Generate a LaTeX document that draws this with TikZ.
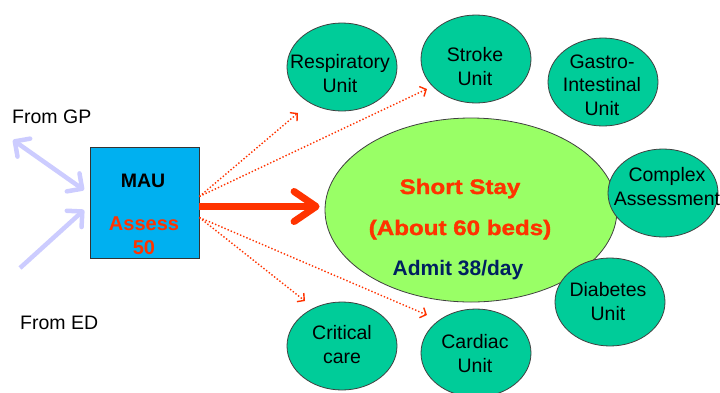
\documentclass[tikz,border=0pt]{standalone}
\usepackage{fontspec}
\setmainfont{Liberation Sans}
\newfontfamily\ssfont{Liberation Sans Bold}[FakeStretch=1.15,FakeBold=1.5]
\usetikzlibrary{shapes.geometric,arrows.meta}
\definecolor{boxblue}{HTML}{00B0F0}
\definecolor{unitgreen}{HTML}{00CC99}
\definecolor{ssgreen}{HTML}{99FF66}
\definecolor{redarr}{HTML}{FF3300}
\definecolor{navytext}{HTML}{002060}
\definecolor{lav}{HTML}{CCCCFF}
\begin{document}
\begin{tikzpicture}[x=1pt,y=-1pt,
  unit/.style={ellipse,draw=black!75,line width=0.8pt,fill=unitgreen,minimum width=110pt,minimum height=88pt,inner sep=0pt},
  unittext/.style={font=\fontsize{19.5}{23.5}\selectfont,align=center,anchor=base,inner sep=0pt},
  dotarr/.style={redarr,line width=1.4pt,dotted,-{Straight Barb[length=5pt,width=11pt,line width=1.4pt]}},
  lavarr/.style={lav,line width=4.5pt,-{Straight Barb[length=11pt,width=22pt,round]}},
  bigarr/.style={redarr,line width=7pt,-{Straight Barb[length=22pt,width=30pt,round]}},
  plain/.style={font=\fontsize{19.5}{23.5}\selectfont,inner sep=0pt}
]
\useasboundingbox (0,0) rectangle (720,392);

% MAU box
\node[rectangle,draw=black!80,line width=0.8pt,fill=boxblue,minimum width=109pt,minimum height=111pt,inner sep=0pt] (mau) at (144.5,202.5) {};
\node[font=\bfseries\fontsize{19.5}{23}\selectfont,anchor=base,inner sep=0pt] (mautxt) at (143,187) {MAU};
\node[font=\fontsize{20}{24}\selectfont\bfseries,text=redarr,anchor=base,inner sep=0pt,align=center] (assess) at (144,254) {Assess\\[-0.5pt]50};

% From labels
\node[plain,anchor=base west] (gp) at (12,123) {From GP};
\node[plain,anchor=base west] (ed) at (20,329) {From ED};

\coordinate (gpA) at (13,140);
\coordinate (gpB) at (84,190);
\coordinate (edA) at (20,268);
\coordinate (edB) at (84,210);
\draw[lav,line width=4.5pt,{Straight Barb[length=11pt,width=22pt,round]}-{Straight Barb[length=11pt,width=22pt,round]}] (gpA) -- (gpB);
\draw[lavarr] (edA) -- (edB);

% Short stay
\node[ellipse,draw=black!75,line width=0.8pt,fill=ssgreen,minimum width=292pt,minimum height=184pt,inner sep=0pt] (ss) at (471,210) {};
\node[font=\ssfont\fontsize{21}{25}\selectfont,text=redarr,anchor=base,inner sep=0pt] (ss1) at (460,194) {Short Stay};
\node[font=\ssfont\fontsize{21}{25}\selectfont,text=redarr,anchor=base,inner sep=0pt] (ss2) at (460,235) {(About 60 beds)};
\node[font=\bfseries\fontsize{21}{25}\selectfont,text=navytext,anchor=base,inner sep=0pt] (ss3) at (458,275) {Admit 38/day};

% Units
\node[unit] (resp) at (342,67) {};
\node[unittext] (resptxt) at (340,92) {Respiratory\\Unit};
\node[unit] (stroke) at (476,59) {};
\node[unittext] (stroketxt) at (475,85) {Stroke\\Unit};
\node[unit] (gastro) at (603,82) {};
\node[unittext] (gastrotxt) at (602,115) {Gastro-\\Intestinal\\Unit};
\node[unit] (complex) at (663,193) {};
\node[unittext] (complextxt) at (667,205) {Complex\\Assessment};
\node[unit] (diab) at (610,302) {};
\node[unittext] (diabtxt) at (608,320) {Diabetes\\Unit};
\node[unit] (crit) at (342,346) {};
\node[unittext] (crittxt) at (342,363) {Critical\\care};
\node[unit] (card) at (476,353) {};
\node[unittext] (cardtxt) at (475,372) {Cardiac\\Unit};

% arrows from MAU
\coordinate (mauU) at ([yshift=6pt]mau.east);
\coordinate (mauL) at ([yshift=-15pt]mau.east);
\coordinate (bigS) at ([yshift=-4pt]mau.east);
\coordinate (respEnd) at (298,113);
\coordinate (strokeEnd) at (427,89);
\coordinate (critEnd) at (305,301);
\coordinate (cardEnd) at (427,315);
\draw[dotarr] (mauU) -- (respEnd);
\draw[dotarr] (mauU) -- (strokeEnd);
\draw[dotarr] (mauL) -- (critEnd);
\draw[dotarr] (mauL) -- (cardEnd);
\draw[bigarr,shorten >=5pt] (bigS) -- (bigS -| ss.west);
\end{tikzpicture}
\end{document}
